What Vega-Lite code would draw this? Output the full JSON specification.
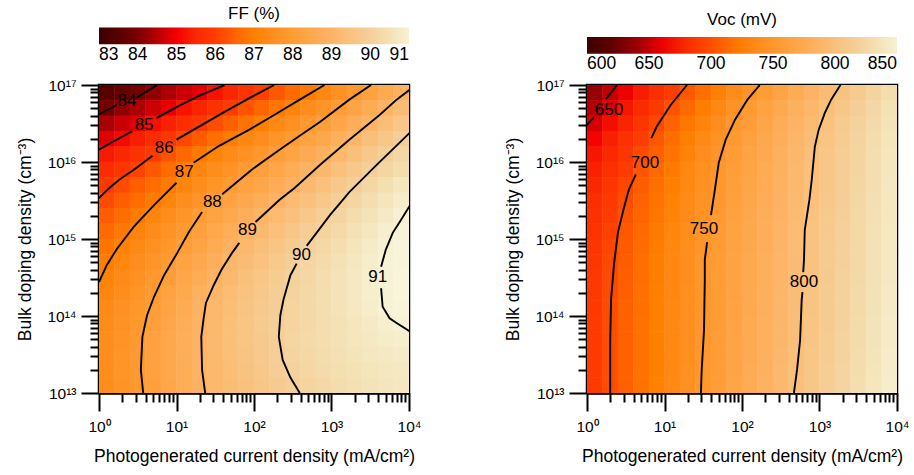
{
"$schema":"https://vega.github.io/schema/vega-lite/v6.json",
"background":"white",
"padding":{"left":15,"top":4,"right":5,"bottom":5},
"config":{"font":"Liberation Sans","view":{"stroke":"black","strokeWidth":2.5},
"axis":{"grid":false,"domainColor":"black","domainWidth":2.5,"tickColor":"black","tickWidth":2,"labelColor":"black","labelFontSize":15.5,"titleColor":"black","titleFontSize":17.5,"titleFontWeight":"normal","labelOverlap":false,"labelFlush":false}},
"datasets":{
"ff":[
{"J":1.259,"N":7.943e16,"FF":83.48},{"J":1.995,"N":7.943e16,"FF":83.71},{"J":3.162,"N":7.943e16,"FF":83.95},{"J":5.012,"N":7.943e16,"FF":84.19},{"J":7.943,"N":7.943e16,"FF":84.42},{"J":12.59,"N":7.943e16,"FF":84.66},{"J":19.95,"N":7.943e16,"FF":84.89},{"J":31.62,"N":7.943e16,"FF":85.16},{"J":50.12,"N":7.943e16,"FF":85.45},{"J":79.43,"N":7.943e16,"FF":85.75},{"J":125.9,"N":7.943e16,"FF":86.04},{"J":199.5,"N":7.943e16,"FF":86.34},{"J":316.2,"N":7.943e16,"FF":86.63},{"J":501.2,"N":7.943e16,"FF":86.93},{"J":794.3,"N":7.943e16,"FF":87.25},{"J":1259,"N":7.943e16,"FF":87.57},{"J":1995,"N":7.943e16,"FF":87.89},{"J":3162,"N":7.943e16,"FF":88.22},{"J":5012,"N":7.943e16,"FF":88.56},{"J":7943,"N":7.943e16,"FF":88.9},
{"J":1.259,"N":5.012e16,"FF":83.94},{"J":1.995,"N":5.012e16,"FF":84.18},{"J":3.162,"N":5.012e16,"FF":84.42},{"J":5.012,"N":5.012e16,"FF":84.66},{"J":7.943,"N":5.012e16,"FF":84.9},{"J":12.59,"N":5.012e16,"FF":85.16},{"J":19.95,"N":5.012e16,"FF":85.43},{"J":31.62,"N":5.012e16,"FF":85.71},{"J":50.12,"N":5.012e16,"FF":85.99},{"J":79.43,"N":5.012e16,"FF":86.27},{"J":125.9,"N":5.012e16,"FF":86.55},{"J":199.5,"N":5.012e16,"FF":86.84},{"J":316.2,"N":5.012e16,"FF":87.13},{"J":501.2,"N":5.012e16,"FF":87.42},{"J":794.3,"N":5.012e16,"FF":87.71},{"J":1259,"N":5.012e16,"FF":88.01},{"J":1995,"N":5.012e16,"FF":88.33},{"J":3162,"N":5.012e16,"FF":88.64},{"J":5012,"N":5.012e16,"FF":88.96},{"J":7943,"N":5.012e16,"FF":89.28},
{"J":1.259,"N":3.162e16,"FF":84.4},{"J":1.995,"N":3.162e16,"FF":84.63},{"J":3.162,"N":3.162e16,"FF":84.86},{"J":5.012,"N":3.162e16,"FF":85.11},{"J":7.943,"N":3.162e16,"FF":85.37},{"J":12.59,"N":3.162e16,"FF":85.64},{"J":19.95,"N":3.162e16,"FF":85.91},{"J":31.62,"N":3.162e16,"FF":86.18},{"J":50.12,"N":3.162e16,"FF":86.46},{"J":79.43,"N":3.162e16,"FF":86.75},{"J":125.9,"N":3.162e16,"FF":87.02},{"J":199.5,"N":3.162e16,"FF":87.3},{"J":316.2,"N":3.162e16,"FF":87.57},{"J":501.2,"N":3.162e16,"FF":87.84},{"J":794.3,"N":3.162e16,"FF":88.12},{"J":1259,"N":3.162e16,"FF":88.42},{"J":1995,"N":3.162e16,"FF":88.71},{"J":3162,"N":3.162e16,"FF":89.01},{"J":5012,"N":3.162e16,"FF":89.32},{"J":7943,"N":3.162e16,"FF":89.63},
{"J":1.259,"N":1.995e16,"FF":84.83},{"J":1.995,"N":1.995e16,"FF":85.07},{"J":3.162,"N":1.995e16,"FF":85.33},{"J":5.012,"N":1.995e16,"FF":85.59},{"J":7.943,"N":1.995e16,"FF":85.85},{"J":12.59,"N":1.995e16,"FF":86.12},{"J":19.95,"N":1.995e16,"FF":86.4},{"J":31.62,"N":1.995e16,"FF":86.68},{"J":50.12,"N":1.995e16,"FF":86.96},{"J":79.43,"N":1.995e16,"FF":87.22},{"J":125.9,"N":1.995e16,"FF":87.46},{"J":199.5,"N":1.995e16,"FF":87.71},{"J":316.2,"N":1.995e16,"FF":87.96},{"J":501.2,"N":1.995e16,"FF":88.23},{"J":794.3,"N":1.995e16,"FF":88.51},{"J":1259,"N":1.995e16,"FF":88.79},{"J":1995,"N":1.995e16,"FF":89.07},{"J":3162,"N":1.995e16,"FF":89.36},{"J":5012,"N":1.995e16,"FF":89.65},{"J":7943,"N":1.995e16,"FF":89.95},
{"J":1.259,"N":1.259e16,"FF":85.24},{"J":1.995,"N":1.259e16,"FF":85.48},{"J":3.162,"N":1.259e16,"FF":85.73},{"J":5.012,"N":1.259e16,"FF":85.98},{"J":7.943,"N":1.259e16,"FF":86.27},{"J":12.59,"N":1.259e16,"FF":86.58},{"J":19.95,"N":1.259e16,"FF":86.88},{"J":31.62,"N":1.259e16,"FF":87.14},{"J":50.12,"N":1.259e16,"FF":87.37},{"J":79.43,"N":1.259e16,"FF":87.6},{"J":125.9,"N":1.259e16,"FF":87.82},{"J":199.5,"N":1.259e16,"FF":88.06},{"J":316.2,"N":1.259e16,"FF":88.32},{"J":501.2,"N":1.259e16,"FF":88.59},{"J":794.3,"N":1.259e16,"FF":88.85},{"J":1259,"N":1.259e16,"FF":89.12},{"J":1995,"N":1.259e16,"FF":89.4},{"J":3162,"N":1.259e16,"FF":89.68},{"J":5012,"N":1.259e16,"FF":89.96},{"J":7943,"N":1.259e16,"FF":90.19},
{"J":1.259,"N":7.943e15,"FF":85.6},{"J":1.995,"N":7.943e15,"FF":85.83},{"J":3.162,"N":7.943e15,"FF":86.06},{"J":5.012,"N":7.943e15,"FF":86.36},{"J":7.943,"N":7.943e15,"FF":86.66},{"J":12.59,"N":7.943e15,"FF":86.96},{"J":19.95,"N":7.943e15,"FF":87.2},{"J":31.62,"N":7.943e15,"FF":87.44},{"J":50.12,"N":7.943e15,"FF":87.68},{"J":79.43,"N":7.943e15,"FF":87.91},{"J":125.9,"N":7.943e15,"FF":88.16},{"J":199.5,"N":7.943e15,"FF":88.4},{"J":316.2,"N":7.943e15,"FF":88.65},{"J":501.2,"N":7.943e15,"FF":88.9},{"J":794.3,"N":7.943e15,"FF":89.16},{"J":1259,"N":7.943e15,"FF":89.43},{"J":1995,"N":7.943e15,"FF":89.7},{"J":3162,"N":7.943e15,"FF":89.97},{"J":5012,"N":7.943e15,"FF":90.17},{"J":7943,"N":7.943e15,"FF":90.36},
{"J":1.259,"N":5.012e15,"FF":85.91},{"J":1.995,"N":5.012e15,"FF":86.16},{"J":3.162,"N":5.012e15,"FF":86.41},{"J":5.012,"N":5.012e15,"FF":86.66},{"J":7.943,"N":5.012e15,"FF":86.91},{"J":12.59,"N":5.012e15,"FF":87.17},{"J":19.95,"N":5.012e15,"FF":87.44},{"J":31.62,"N":5.012e15,"FF":87.7},{"J":50.12,"N":5.012e15,"FF":87.96},{"J":79.43,"N":5.012e15,"FF":88.21},{"J":125.9,"N":5.012e15,"FF":88.44},{"J":199.5,"N":5.012e15,"FF":88.68},{"J":316.2,"N":5.012e15,"FF":88.92},{"J":501.2,"N":5.012e15,"FF":89.18},{"J":794.3,"N":5.012e15,"FF":89.44},{"J":1259,"N":5.012e15,"FF":89.7},{"J":1995,"N":5.012e15,"FF":89.97},{"J":3162,"N":5.012e15,"FF":90.2},{"J":5012,"N":5.012e15,"FF":90.43},{"J":7943,"N":5.012e15,"FF":90.65},
{"J":1.259,"N":3.162e15,"FF":86.16},{"J":1.995,"N":3.162e15,"FF":86.41},{"J":3.162,"N":3.162e15,"FF":86.66},{"J":5.012,"N":3.162e15,"FF":86.91},{"J":7.943,"N":3.162e15,"FF":87.18},{"J":12.59,"N":3.162e15,"FF":87.46},{"J":19.95,"N":3.162e15,"FF":87.74},{"J":31.62,"N":3.162e15,"FF":88.02},{"J":50.12,"N":3.162e15,"FF":88.26},{"J":79.43,"N":3.162e15,"FF":88.49},{"J":125.9,"N":3.162e15,"FF":88.73},{"J":199.5,"N":3.162e15,"FF":88.97},{"J":316.2,"N":3.162e15,"FF":89.22},{"J":501.2,"N":3.162e15,"FF":89.46},{"J":794.3,"N":3.162e15,"FF":89.71},{"J":1259,"N":3.162e15,"FF":89.95},{"J":1995,"N":3.162e15,"FF":90.17},{"J":3162,"N":3.162e15,"FF":90.39},{"J":5012,"N":3.162e15,"FF":90.61},{"J":7943,"N":3.162e15,"FF":90.83},
{"J":1.259,"N":1.995e15,"FF":86.41},{"J":1.995,"N":1.995e15,"FF":86.65},{"J":3.162,"N":1.995e15,"FF":86.9},{"J":5.012,"N":1.995e15,"FF":87.16},{"J":7.943,"N":1.995e15,"FF":87.44},{"J":12.59,"N":1.995e15,"FF":87.72},{"J":19.95,"N":1.995e15,"FF":88.0},{"J":31.62,"N":1.995e15,"FF":88.25},{"J":50.12,"N":1.995e15,"FF":88.5},{"J":79.43,"N":1.995e15,"FF":88.75},{"J":125.9,"N":1.995e15,"FF":89.0},{"J":199.5,"N":1.995e15,"FF":89.23},{"J":316.2,"N":1.995e15,"FF":89.46},{"J":501.2,"N":1.995e15,"FF":89.69},{"J":794.3,"N":1.995e15,"FF":89.92},{"J":1259,"N":1.995e15,"FF":90.14},{"J":1995,"N":1.995e15,"FF":90.34},{"J":3162,"N":1.995e15,"FF":90.55},{"J":5012,"N":1.995e15,"FF":90.76},{"J":7943,"N":1.995e15,"FF":90.97},
{"J":1.259,"N":1.259e15,"FF":86.61},{"J":1.995,"N":1.259e15,"FF":86.86},{"J":3.162,"N":1.259e15,"FF":87.12},{"J":5.012,"N":1.259e15,"FF":87.38},{"J":7.943,"N":1.259e15,"FF":87.64},{"J":12.59,"N":1.259e15,"FF":87.91},{"J":19.95,"N":1.259e15,"FF":88.17},{"J":31.62,"N":1.259e15,"FF":88.45},{"J":50.12,"N":1.259e15,"FF":88.72},{"J":79.43,"N":1.259e15,"FF":88.99},{"J":125.9,"N":1.259e15,"FF":89.21},{"J":199.5,"N":1.259e15,"FF":89.44},{"J":316.2,"N":1.259e15,"FF":89.66},{"J":501.2,"N":1.259e15,"FF":89.88},{"J":794.3,"N":1.259e15,"FF":90.09},{"J":1259,"N":1.259e15,"FF":90.29},{"J":1995,"N":1.259e15,"FF":90.49},{"J":3162,"N":1.259e15,"FF":90.69},{"J":5012,"N":1.259e15,"FF":90.89},{"J":7943,"N":1.259e15,"FF":91.05},
{"J":1.259,"N":7.943e14,"FF":86.8},{"J":1.995,"N":7.943e14,"FF":87.06},{"J":3.162,"N":7.943e14,"FF":87.3},{"J":5.012,"N":7.943e14,"FF":87.56},{"J":7.943,"N":7.943e14,"FF":87.8},{"J":12.59,"N":7.943e14,"FF":88.06},{"J":19.95,"N":7.943e14,"FF":88.34},{"J":31.62,"N":7.943e14,"FF":88.62},{"J":50.12,"N":7.943e14,"FF":88.89},{"J":79.43,"N":7.943e14,"FF":89.14},{"J":125.9,"N":7.943e14,"FF":89.36},{"J":199.5,"N":7.943e14,"FF":89.59},{"J":316.2,"N":7.943e14,"FF":89.81},{"J":501.2,"N":7.943e14,"FF":90.03},{"J":794.3,"N":7.943e14,"FF":90.22},{"J":1259,"N":7.943e14,"FF":90.41},{"J":1995,"N":7.943e14,"FF":90.6},{"J":3162,"N":7.943e14,"FF":90.79},{"J":5012,"N":7.943e14,"FF":90.98},{"J":7943,"N":7.943e14,"FF":91.1},
{"J":1.259,"N":5.012e14,"FF":86.97},{"J":1.995,"N":5.012e14,"FF":87.21},{"J":3.162,"N":5.012e14,"FF":87.46},{"J":5.012,"N":5.012e14,"FF":87.71},{"J":7.943,"N":5.012e14,"FF":87.95},{"J":12.59,"N":5.012e14,"FF":88.23},{"J":19.95,"N":5.012e14,"FF":88.51},{"J":31.62,"N":5.012e14,"FF":88.8},{"J":50.12,"N":5.012e14,"FF":89.06},{"J":79.43,"N":5.012e14,"FF":89.28},{"J":125.9,"N":5.012e14,"FF":89.5},{"J":199.5,"N":5.012e14,"FF":89.72},{"J":316.2,"N":5.012e14,"FF":89.94},{"J":501.2,"N":5.012e14,"FF":90.13},{"J":794.3,"N":5.012e14,"FF":90.31},{"J":1259,"N":5.012e14,"FF":90.49},{"J":1995,"N":5.012e14,"FF":90.67},{"J":3162,"N":5.012e14,"FF":90.86},{"J":5012,"N":5.012e14,"FF":91.03},{"J":7943,"N":5.012e14,"FF":91.12},
{"J":1.259,"N":3.162e14,"FF":87.09},{"J":1.995,"N":3.162e14,"FF":87.34},{"J":3.162,"N":3.162e14,"FF":87.59},{"J":5.012,"N":3.162e14,"FF":87.84},{"J":7.943,"N":3.162e14,"FF":88.1},{"J":12.59,"N":3.162e14,"FF":88.39},{"J":19.95,"N":3.162e14,"FF":88.67},{"J":31.62,"N":3.162e14,"FF":88.96},{"J":50.12,"N":3.162e14,"FF":89.18},{"J":79.43,"N":3.162e14,"FF":89.4},{"J":125.9,"N":3.162e14,"FF":89.61},{"J":199.5,"N":3.162e14,"FF":89.83},{"J":316.2,"N":3.162e14,"FF":90.03},{"J":501.2,"N":3.162e14,"FF":90.2},{"J":794.3,"N":3.162e14,"FF":90.38},{"J":1259,"N":3.162e14,"FF":90.55},{"J":1995,"N":3.162e14,"FF":90.72},{"J":3162,"N":3.162e14,"FF":90.89},{"J":5012,"N":3.162e14,"FF":91.04},{"J":7943,"N":3.162e14,"FF":91.13},
{"J":1.259,"N":1.995e14,"FF":87.19},{"J":1.995,"N":1.995e14,"FF":87.45},{"J":3.162,"N":1.995e14,"FF":87.7},{"J":5.012,"N":1.995e14,"FF":87.95},{"J":7.943,"N":1.995e14,"FF":88.23},{"J":12.59,"N":1.995e14,"FF":88.52},{"J":19.95,"N":1.995e14,"FF":88.81},{"J":31.62,"N":1.995e14,"FF":89.07},{"J":50.12,"N":1.995e14,"FF":89.27},{"J":79.43,"N":1.995e14,"FF":89.48},{"J":125.9,"N":1.995e14,"FF":89.68},{"J":199.5,"N":1.995e14,"FF":89.89},{"J":316.2,"N":1.995e14,"FF":90.07},{"J":501.2,"N":1.995e14,"FF":90.24},{"J":794.3,"N":1.995e14,"FF":90.4},{"J":1259,"N":1.995e14,"FF":90.56},{"J":1995,"N":1.995e14,"FF":90.72},{"J":3162,"N":1.995e14,"FF":90.89},{"J":5012,"N":1.995e14,"FF":91.04},{"J":7943,"N":1.995e14,"FF":91.13},
{"J":1.259,"N":1.259e14,"FF":87.3},{"J":1.995,"N":1.259e14,"FF":87.55},{"J":3.162,"N":1.259e14,"FF":87.81},{"J":5.012,"N":1.259e14,"FF":88.06},{"J":7.943,"N":1.259e14,"FF":88.34},{"J":12.59,"N":1.259e14,"FF":88.62},{"J":19.95,"N":1.259e14,"FF":88.9},{"J":31.62,"N":1.259e14,"FF":89.13},{"J":50.12,"N":1.259e14,"FF":89.33},{"J":79.43,"N":1.259e14,"FF":89.54},{"J":125.9,"N":1.259e14,"FF":89.74},{"J":199.5,"N":1.259e14,"FF":89.94},{"J":316.2,"N":1.259e14,"FF":90.11},{"J":501.2,"N":1.259e14,"FF":90.26},{"J":794.3,"N":1.259e14,"FF":90.41},{"J":1259,"N":1.259e14,"FF":90.56},{"J":1995,"N":1.259e14,"FF":90.72},{"J":3162,"N":1.259e14,"FF":90.87},{"J":5012,"N":1.259e14,"FF":91.02},{"J":7943,"N":1.259e14,"FF":91.1},
{"J":1.259,"N":7.943e13,"FF":87.37},{"J":1.995,"N":7.943e13,"FF":87.63},{"J":3.162,"N":7.943e13,"FF":87.88},{"J":5.012,"N":7.943e13,"FF":88.14},{"J":7.943,"N":7.943e13,"FF":88.41},{"J":12.59,"N":7.943e13,"FF":88.68},{"J":19.95,"N":7.943e13,"FF":88.95},{"J":31.62,"N":7.943e13,"FF":89.16},{"J":50.12,"N":7.943e13,"FF":89.36},{"J":79.43,"N":7.943e13,"FF":89.57},{"J":125.9,"N":7.943e13,"FF":89.77},{"J":199.5,"N":7.943e13,"FF":89.97},{"J":316.2,"N":7.943e13,"FF":90.11},{"J":501.2,"N":7.943e13,"FF":90.24},{"J":794.3,"N":7.943e13,"FF":90.37},{"J":1259,"N":7.943e13,"FF":90.5},{"J":1995,"N":7.943e13,"FF":90.64},{"J":3162,"N":7.943e13,"FF":90.77},{"J":5012,"N":7.943e13,"FF":90.9},{"J":7943,"N":7.943e13,"FF":91.02},
{"J":1.259,"N":5.012e13,"FF":87.43},{"J":1.995,"N":5.012e13,"FF":87.68},{"J":3.162,"N":5.012e13,"FF":87.93},{"J":5.012,"N":5.012e13,"FF":88.19},{"J":7.943,"N":5.012e13,"FF":88.45},{"J":12.59,"N":5.012e13,"FF":88.71},{"J":19.95,"N":5.012e13,"FF":88.97},{"J":31.62,"N":5.012e13,"FF":89.18},{"J":50.12,"N":5.012e13,"FF":89.38},{"J":79.43,"N":5.012e13,"FF":89.58},{"J":125.9,"N":5.012e13,"FF":89.78},{"J":199.5,"N":5.012e13,"FF":89.98},{"J":316.2,"N":5.012e13,"FF":90.13},{"J":501.2,"N":5.012e13,"FF":90.27},{"J":794.3,"N":5.012e13,"FF":90.4},{"J":1259,"N":5.012e13,"FF":90.52},{"J":1995,"N":5.012e13,"FF":90.63},{"J":3162,"N":5.012e13,"FF":90.73},{"J":5012,"N":5.012e13,"FF":90.82},{"J":7943,"N":5.012e13,"FF":90.9},
{"J":1.259,"N":3.162e13,"FF":87.44},{"J":1.995,"N":3.162e13,"FF":87.69},{"J":3.162,"N":3.162e13,"FF":87.94},{"J":5.012,"N":3.162e13,"FF":88.19},{"J":7.943,"N":3.162e13,"FF":88.45},{"J":12.59,"N":3.162e13,"FF":88.71},{"J":19.95,"N":3.162e13,"FF":88.97},{"J":31.62,"N":3.162e13,"FF":89.17},{"J":50.12,"N":3.162e13,"FF":89.36},{"J":79.43,"N":3.162e13,"FF":89.56},{"J":125.9,"N":3.162e13,"FF":89.75},{"J":199.5,"N":3.162e13,"FF":89.95},{"J":316.2,"N":3.162e13,"FF":90.1},{"J":501.2,"N":3.162e13,"FF":90.23},{"J":794.3,"N":3.162e13,"FF":90.36},{"J":1259,"N":3.162e13,"FF":90.47},{"J":1995,"N":3.162e13,"FF":90.57},{"J":3162,"N":3.162e13,"FF":90.66},{"J":5012,"N":3.162e13,"FF":90.74},{"J":7943,"N":3.162e13,"FF":90.81},
{"J":1.259,"N":1.995e13,"FF":87.45},{"J":1.995,"N":1.995e13,"FF":87.7},{"J":3.162,"N":1.995e13,"FF":87.94},{"J":5.012,"N":1.995e13,"FF":88.2},{"J":7.943,"N":1.995e13,"FF":88.45},{"J":12.59,"N":1.995e13,"FF":88.7},{"J":19.95,"N":1.995e13,"FF":88.96},{"J":31.62,"N":1.995e13,"FF":89.15},{"J":50.12,"N":1.995e13,"FF":89.34},{"J":79.43,"N":1.995e13,"FF":89.52},{"J":125.9,"N":1.995e13,"FF":89.7},{"J":199.5,"N":1.995e13,"FF":89.89},{"J":316.2,"N":1.995e13,"FF":90.06},{"J":501.2,"N":1.995e13,"FF":90.19},{"J":794.3,"N":1.995e13,"FF":90.31},{"J":1259,"N":1.995e13,"FF":90.42},{"J":1995,"N":1.995e13,"FF":90.52},{"J":3162,"N":1.995e13,"FF":90.6},{"J":5012,"N":1.995e13,"FF":90.68},{"J":7943,"N":1.995e13,"FF":90.75},
{"J":1.259,"N":1.259e13,"FF":87.43},{"J":1.995,"N":1.259e13,"FF":87.68},{"J":3.162,"N":1.259e13,"FF":87.92},{"J":5.012,"N":1.259e13,"FF":88.18},{"J":7.943,"N":1.259e13,"FF":88.42},{"J":12.59,"N":1.259e13,"FF":88.68},{"J":19.95,"N":1.259e13,"FF":88.93},{"J":31.62,"N":1.259e13,"FF":89.12},{"J":50.12,"N":1.259e13,"FF":89.29},{"J":79.43,"N":1.259e13,"FF":89.46},{"J":125.9,"N":1.259e13,"FF":89.63},{"J":199.5,"N":1.259e13,"FF":89.8},{"J":316.2,"N":1.259e13,"FF":89.97},{"J":501.2,"N":1.259e13,"FF":90.11},{"J":794.3,"N":1.259e13,"FF":90.24},{"J":1259,"N":1.259e13,"FF":90.35},{"J":1995,"N":1.259e13,"FF":90.45},{"J":3162,"N":1.259e13,"FF":90.54},{"J":5012,"N":1.259e13,"FF":90.62},{"J":7943,"N":1.259e13,"FF":90.69}
],
"voc":[
{"J":1.259,"N":7.943e16,"Voc":638.7},{"J":1.995,"N":7.943e16,"Voc":649.8},{"J":3.162,"N":7.943e16,"Voc":660.8},{"J":5.012,"N":7.943e16,"Voc":671.8},{"J":7.943,"N":7.943e16,"Voc":682.9},{"J":12.59,"N":7.943e16,"Voc":693.9},{"J":19.95,"N":7.943e16,"Voc":704.8},{"J":31.62,"N":7.943e16,"Voc":715.5},{"J":50.12,"N":7.943e16,"Voc":726.2},{"J":79.43,"N":7.943e16,"Voc":736.9},{"J":125.9,"N":7.943e16,"Voc":747.6},{"J":199.5,"N":7.943e16,"Voc":757.3},{"J":316.2,"N":7.943e16,"Voc":766.7},{"J":501.2,"N":7.943e16,"Voc":776.2},{"J":794.3,"N":7.943e16,"Voc":785.6},{"J":1259,"N":7.943e16,"Voc":795},{"J":1995,"N":7.943e16,"Voc":804.1},{"J":3162,"N":7.943e16,"Voc":812.7},{"J":5012,"N":7.943e16,"Voc":821.3},{"J":7943,"N":7.943e16,"Voc":829.9},
{"J":1.259,"N":5.012e16,"Voc":646.4},{"J":1.995,"N":5.012e16,"Voc":657.6},{"J":3.162,"N":5.012e16,"Voc":668.7},{"J":5.012,"N":5.012e16,"Voc":679.9},{"J":7.943,"N":5.012e16,"Voc":691.1},{"J":12.59,"N":5.012e16,"Voc":702.2},{"J":19.95,"N":5.012e16,"Voc":712.8},{"J":31.62,"N":5.012e16,"Voc":723.4},{"J":50.12,"N":5.012e16,"Voc":734},{"J":79.43,"N":5.012e16,"Voc":744.6},{"J":125.9,"N":5.012e16,"Voc":754.5},{"J":199.5,"N":5.012e16,"Voc":763.6},{"J":316.2,"N":5.012e16,"Voc":772.7},{"J":501.2,"N":5.012e16,"Voc":781.8},{"J":794.3,"N":5.012e16,"Voc":790.9},{"J":1259,"N":5.012e16,"Voc":800},{"J":1995,"N":5.012e16,"Voc":808.4},{"J":3162,"N":5.012e16,"Voc":816.8},{"J":5012,"N":5.012e16,"Voc":825.2},{"J":7943,"N":5.012e16,"Voc":833.6},
{"J":1.259,"N":3.162e16,"Voc":654.5},{"J":1.995,"N":3.162e16,"Voc":665.5},{"J":3.162,"N":3.162e16,"Voc":676.4},{"J":5.012,"N":3.162e16,"Voc":687.3},{"J":7.943,"N":3.162e16,"Voc":698.3},{"J":12.59,"N":3.162e16,"Voc":708.8},{"J":19.95,"N":3.162e16,"Voc":719.2},{"J":31.62,"N":3.162e16,"Voc":729.7},{"J":50.12,"N":3.162e16,"Voc":740.1},{"J":79.43,"N":3.162e16,"Voc":750.5},{"J":125.9,"N":3.162e16,"Voc":759.3},{"J":199.5,"N":3.162e16,"Voc":768.1},{"J":316.2,"N":3.162e16,"Voc":776.9},{"J":501.2,"N":3.162e16,"Voc":785.8},{"J":794.3,"N":3.162e16,"Voc":794.6},{"J":1259,"N":3.162e16,"Voc":803.2},{"J":1995,"N":3.162e16,"Voc":811.4},{"J":3162,"N":3.162e16,"Voc":819.7},{"J":5012,"N":3.162e16,"Voc":827.9},{"J":7943,"N":3.162e16,"Voc":836.1},
{"J":1.259,"N":1.995e16,"Voc":663.3},{"J":1.995,"N":1.995e16,"Voc":673.4},{"J":3.162,"N":1.995e16,"Voc":683.6},{"J":5.012,"N":1.995e16,"Voc":693.7},{"J":7.943,"N":1.995e16,"Voc":703.9},{"J":12.59,"N":1.995e16,"Voc":714.2},{"J":19.95,"N":1.995e16,"Voc":724.4},{"J":31.62,"N":1.995e16,"Voc":734.6},{"J":50.12,"N":1.995e16,"Voc":744.9},{"J":79.43,"N":1.995e16,"Voc":754.3},{"J":125.9,"N":1.995e16,"Voc":762.9},{"J":199.5,"N":1.995e16,"Voc":771.4},{"J":316.2,"N":1.995e16,"Voc":780},{"J":501.2,"N":1.995e16,"Voc":788.6},{"J":794.3,"N":1.995e16,"Voc":797.1},{"J":1259,"N":1.995e16,"Voc":805.4},{"J":1995,"N":1.995e16,"Voc":813.5},{"J":3162,"N":1.995e16,"Voc":821.5},{"J":5012,"N":1.995e16,"Voc":829.6},{"J":7943,"N":1.995e16,"Voc":837.7},
{"J":1.259,"N":1.259e16,"Voc":668.9},{"J":1.995,"N":1.259e16,"Voc":678.9},{"J":3.162,"N":1.259e16,"Voc":688.8},{"J":5.012,"N":1.259e16,"Voc":698.7},{"J":7.943,"N":1.259e16,"Voc":708.6},{"J":12.59,"N":1.259e16,"Voc":718.5},{"J":19.95,"N":1.259e16,"Voc":728.4},{"J":31.62,"N":1.259e16,"Voc":738.3},{"J":50.12,"N":1.259e16,"Voc":748.2},{"J":79.43,"N":1.259e16,"Voc":756.8},{"J":125.9,"N":1.259e16,"Voc":765.2},{"J":199.5,"N":1.259e16,"Voc":773.5},{"J":316.2,"N":1.259e16,"Voc":781.9},{"J":501.2,"N":1.259e16,"Voc":790.2},{"J":794.3,"N":1.259e16,"Voc":798.6},{"J":1259,"N":1.259e16,"Voc":806.7},{"J":1995,"N":1.259e16,"Voc":814.7},{"J":3162,"N":1.259e16,"Voc":822.6},{"J":5012,"N":1.259e16,"Voc":830.6},{"J":7943,"N":1.259e16,"Voc":838.6},
{"J":1.259,"N":7.943e15,"Voc":673.7},{"J":1.995,"N":7.943e15,"Voc":683.3},{"J":3.162,"N":7.943e15,"Voc":693},{"J":5.012,"N":7.943e15,"Voc":702.7},{"J":7.943,"N":7.943e15,"Voc":712.2},{"J":12.59,"N":7.943e15,"Voc":721.8},{"J":19.95,"N":7.943e15,"Voc":731.3},{"J":31.62,"N":7.943e15,"Voc":740.9},{"J":50.12,"N":7.943e15,"Voc":750.4},{"J":79.43,"N":7.943e15,"Voc":758.6},{"J":125.9,"N":7.943e15,"Voc":766.7},{"J":199.5,"N":7.943e15,"Voc":774.9},{"J":316.2,"N":7.943e15,"Voc":783.1},{"J":501.2,"N":7.943e15,"Voc":791.2},{"J":794.3,"N":7.943e15,"Voc":799.4},{"J":1259,"N":7.943e15,"Voc":807.3},{"J":1995,"N":7.943e15,"Voc":815.2},{"J":3162,"N":7.943e15,"Voc":823.1},{"J":5012,"N":7.943e15,"Voc":831},{"J":7943,"N":7.943e15,"Voc":838.9},
{"J":1.259,"N":5.012e15,"Voc":678.2},{"J":1.995,"N":5.012e15,"Voc":687.6},{"J":3.162,"N":5.012e15,"Voc":696.9},{"J":5.012,"N":5.012e15,"Voc":706.1},{"J":7.943,"N":5.012e15,"Voc":715.3},{"J":12.59,"N":5.012e15,"Voc":724.4},{"J":19.95,"N":5.012e15,"Voc":733.5},{"J":31.62,"N":5.012e15,"Voc":742.7},{"J":50.12,"N":5.012e15,"Voc":751.6},{"J":79.43,"N":5.012e15,"Voc":759.7},{"J":125.9,"N":5.012e15,"Voc":767.8},{"J":199.5,"N":5.012e15,"Voc":775.9},{"J":316.2,"N":5.012e15,"Voc":784.1},{"J":501.2,"N":5.012e15,"Voc":792.2},{"J":794.3,"N":5.012e15,"Voc":800.3},{"J":1259,"N":5.012e15,"Voc":808.1},{"J":1995,"N":5.012e15,"Voc":815.9},{"J":3162,"N":5.012e15,"Voc":823.8},{"J":5012,"N":5.012e15,"Voc":831.6},{"J":7943,"N":5.012e15,"Voc":839.4},
{"J":1.259,"N":3.162e15,"Voc":681.9},{"J":1.995,"N":3.162e15,"Voc":690.9},{"J":3.162,"N":3.162e15,"Voc":699.9},{"J":5.012,"N":3.162e15,"Voc":708.8},{"J":7.943,"N":3.162e15,"Voc":717.7},{"J":12.59,"N":3.162e15,"Voc":726.6},{"J":19.95,"N":3.162e15,"Voc":735.4},{"J":31.62,"N":3.162e15,"Voc":744.3},{"J":50.12,"N":3.162e15,"Voc":752.9},{"J":79.43,"N":3.162e15,"Voc":761},{"J":125.9,"N":3.162e15,"Voc":769.1},{"J":199.5,"N":3.162e15,"Voc":777.2},{"J":316.2,"N":3.162e15,"Voc":785.3},{"J":501.2,"N":3.162e15,"Voc":793.4},{"J":794.3,"N":3.162e15,"Voc":801.4},{"J":1259,"N":3.162e15,"Voc":809.2},{"J":1995,"N":3.162e15,"Voc":816.9},{"J":3162,"N":3.162e15,"Voc":824.7},{"J":5012,"N":3.162e15,"Voc":832.4},{"J":7943,"N":3.162e15,"Voc":840.2},
{"J":1.259,"N":1.995e15,"Voc":684.7},{"J":1.995,"N":1.995e15,"Voc":693.5},{"J":3.162,"N":1.995e15,"Voc":702.3},{"J":5.012,"N":1.995e15,"Voc":711.1},{"J":7.943,"N":1.995e15,"Voc":719.8},{"J":12.59,"N":1.995e15,"Voc":728.6},{"J":19.95,"N":1.995e15,"Voc":737.4},{"J":31.62,"N":1.995e15,"Voc":746.1},{"J":50.12,"N":1.995e15,"Voc":754.5},{"J":79.43,"N":1.995e15,"Voc":762.5},{"J":125.9,"N":1.995e15,"Voc":770.5},{"J":199.5,"N":1.995e15,"Voc":778.5},{"J":316.2,"N":1.995e15,"Voc":786.5},{"J":501.2,"N":1.995e15,"Voc":794.5},{"J":794.3,"N":1.995e15,"Voc":802.4},{"J":1259,"N":1.995e15,"Voc":810.1},{"J":1995,"N":1.995e15,"Voc":817.8},{"J":3162,"N":1.995e15,"Voc":825.4},{"J":5012,"N":1.995e15,"Voc":833.1},{"J":7943,"N":1.995e15,"Voc":840.8},
{"J":1.259,"N":1.259e15,"Voc":686.6},{"J":1.995,"N":1.259e15,"Voc":695.4},{"J":3.162,"N":1.259e15,"Voc":704.2},{"J":5.012,"N":1.259e15,"Voc":713},{"J":7.943,"N":1.259e15,"Voc":721.7},{"J":12.59,"N":1.259e15,"Voc":730.4},{"J":19.95,"N":1.259e15,"Voc":739.2},{"J":31.62,"N":1.259e15,"Voc":747.9},{"J":50.12,"N":1.259e15,"Voc":756},{"J":79.43,"N":1.259e15,"Voc":763.9},{"J":125.9,"N":1.259e15,"Voc":771.8},{"J":199.5,"N":1.259e15,"Voc":779.7},{"J":316.2,"N":1.259e15,"Voc":787.6},{"J":501.2,"N":1.259e15,"Voc":795.5},{"J":794.3,"N":1.259e15,"Voc":803.3},{"J":1259,"N":1.259e15,"Voc":810.9},{"J":1995,"N":1.259e15,"Voc":818.5},{"J":3162,"N":1.259e15,"Voc":826.1},{"J":5012,"N":1.259e15,"Voc":833.7},{"J":7943,"N":1.259e15,"Voc":841.3},
{"J":1.259,"N":7.943e14,"Voc":688},{"J":1.995,"N":7.943e14,"Voc":696.7},{"J":3.162,"N":7.943e14,"Voc":705.4},{"J":5.012,"N":7.943e14,"Voc":714},{"J":7.943,"N":7.943e14,"Voc":722.6},{"J":12.59,"N":7.943e14,"Voc":731.2},{"J":19.95,"N":7.943e14,"Voc":739.8},{"J":31.62,"N":7.943e14,"Voc":748.5},{"J":50.12,"N":7.943e14,"Voc":756.5},{"J":79.43,"N":7.943e14,"Voc":764.4},{"J":125.9,"N":7.943e14,"Voc":772.2},{"J":199.5,"N":7.943e14,"Voc":780.1},{"J":316.2,"N":7.943e14,"Voc":788},{"J":501.2,"N":7.943e14,"Voc":795.8},{"J":794.3,"N":7.943e14,"Voc":803.6},{"J":1259,"N":7.943e14,"Voc":811.2},{"J":1995,"N":7.943e14,"Voc":818.8},{"J":3162,"N":7.943e14,"Voc":826.4},{"J":5012,"N":7.943e14,"Voc":834},{"J":7943,"N":7.943e14,"Voc":841.6},
{"J":1.259,"N":5.012e14,"Voc":689.4},{"J":1.995,"N":5.012e14,"Voc":697.9},{"J":3.162,"N":5.012e14,"Voc":706.4},{"J":5.012,"N":5.012e14,"Voc":714.9},{"J":7.943,"N":5.012e14,"Voc":723.5},{"J":12.59,"N":5.012e14,"Voc":732},{"J":19.95,"N":5.012e14,"Voc":740.5},{"J":31.62,"N":5.012e14,"Voc":749},{"J":50.12,"N":5.012e14,"Voc":757},{"J":79.43,"N":5.012e14,"Voc":764.8},{"J":125.9,"N":5.012e14,"Voc":772.6},{"J":199.5,"N":5.012e14,"Voc":780.5},{"J":316.2,"N":5.012e14,"Voc":788.3},{"J":501.2,"N":5.012e14,"Voc":796.1},{"J":794.3,"N":5.012e14,"Voc":803.8},{"J":1259,"N":5.012e14,"Voc":811.4},{"J":1995,"N":5.012e14,"Voc":819},{"J":3162,"N":5.012e14,"Voc":826.6},{"J":5012,"N":5.012e14,"Voc":834.2},{"J":7943,"N":5.012e14,"Voc":841.8},
{"J":1.259,"N":3.162e14,"Voc":690.2},{"J":1.995,"N":3.162e14,"Voc":698.6},{"J":3.162,"N":3.162e14,"Voc":707},{"J":5.012,"N":3.162e14,"Voc":715.4},{"J":7.943,"N":3.162e14,"Voc":723.8},{"J":12.59,"N":3.162e14,"Voc":732.2},{"J":19.95,"N":3.162e14,"Voc":740.6},{"J":31.62,"N":3.162e14,"Voc":749.1},{"J":50.12,"N":3.162e14,"Voc":757},{"J":79.43,"N":3.162e14,"Voc":764.9},{"J":125.9,"N":3.162e14,"Voc":772.8},{"J":199.5,"N":3.162e14,"Voc":780.6},{"J":316.2,"N":3.162e14,"Voc":788.5},{"J":501.2,"N":3.162e14,"Voc":796.4},{"J":794.3,"N":3.162e14,"Voc":804.1},{"J":1259,"N":3.162e14,"Voc":811.7},{"J":1995,"N":3.162e14,"Voc":819.3},{"J":3162,"N":3.162e14,"Voc":826.9},{"J":5012,"N":3.162e14,"Voc":834.5},{"J":7943,"N":3.162e14,"Voc":842.1},
{"J":1.259,"N":1.995e14,"Voc":690.9},{"J":1.995,"N":1.995e14,"Voc":699.3},{"J":3.162,"N":1.995e14,"Voc":707.6},{"J":5.012,"N":1.995e14,"Voc":715.9},{"J":7.943,"N":1.995e14,"Voc":724.2},{"J":12.59,"N":1.995e14,"Voc":732.6},{"J":19.95,"N":1.995e14,"Voc":740.9},{"J":31.62,"N":1.995e14,"Voc":749.2},{"J":50.12,"N":1.995e14,"Voc":757.2},{"J":79.43,"N":1.995e14,"Voc":765.1},{"J":125.9,"N":1.995e14,"Voc":773.1},{"J":199.5,"N":1.995e14,"Voc":781},{"J":316.2,"N":1.995e14,"Voc":788.9},{"J":501.2,"N":1.995e14,"Voc":796.9},{"J":794.3,"N":1.995e14,"Voc":804.6},{"J":1259,"N":1.995e14,"Voc":812.2},{"J":1995,"N":1.995e14,"Voc":819.8},{"J":3162,"N":1.995e14,"Voc":827.4},{"J":5012,"N":1.995e14,"Voc":835},{"J":7943,"N":1.995e14,"Voc":842.6},
{"J":1.259,"N":1.259e14,"Voc":691.4},{"J":1.995,"N":1.259e14,"Voc":699.7},{"J":3.162,"N":1.259e14,"Voc":708},{"J":5.012,"N":1.259e14,"Voc":716.3},{"J":7.943,"N":1.259e14,"Voc":724.5},{"J":12.59,"N":1.259e14,"Voc":732.8},{"J":19.95,"N":1.259e14,"Voc":741.1},{"J":31.62,"N":1.259e14,"Voc":749.4},{"J":50.12,"N":1.259e14,"Voc":757.4},{"J":79.43,"N":1.259e14,"Voc":765.4},{"J":125.9,"N":1.259e14,"Voc":773.3},{"J":199.5,"N":1.259e14,"Voc":781.3},{"J":316.2,"N":1.259e14,"Voc":789.3},{"J":501.2,"N":1.259e14,"Voc":797.2},{"J":794.3,"N":1.259e14,"Voc":805},{"J":1259,"N":1.259e14,"Voc":812.6},{"J":1995,"N":1.259e14,"Voc":820.2},{"J":3162,"N":1.259e14,"Voc":827.8},{"J":5012,"N":1.259e14,"Voc":835.4},{"J":7943,"N":1.259e14,"Voc":843},
{"J":1.259,"N":7.943e13,"Voc":691.6},{"J":1.995,"N":7.943e13,"Voc":699.9},{"J":3.162,"N":7.943e13,"Voc":708.2},{"J":5.012,"N":7.943e13,"Voc":716.5},{"J":7.943,"N":7.943e13,"Voc":724.7},{"J":12.59,"N":7.943e13,"Voc":733},{"J":19.95,"N":7.943e13,"Voc":741.3},{"J":31.62,"N":7.943e13,"Voc":749.5},{"J":50.12,"N":7.943e13,"Voc":757.6},{"J":79.43,"N":7.943e13,"Voc":765.6},{"J":125.9,"N":7.943e13,"Voc":773.6},{"J":199.5,"N":7.943e13,"Voc":781.6},{"J":316.2,"N":7.943e13,"Voc":789.6},{"J":501.2,"N":7.943e13,"Voc":797.6},{"J":794.3,"N":7.943e13,"Voc":805.4},{"J":1259,"N":7.943e13,"Voc":813},{"J":1995,"N":7.943e13,"Voc":820.6},{"J":3162,"N":7.943e13,"Voc":828.2},{"J":5012,"N":7.943e13,"Voc":835.8},{"J":7943,"N":7.943e13,"Voc":843.4},
{"J":1.259,"N":5.012e13,"Voc":691.8},{"J":1.995,"N":5.012e13,"Voc":700.1},{"J":3.162,"N":5.012e13,"Voc":708.4},{"J":5.012,"N":5.012e13,"Voc":716.7},{"J":7.943,"N":5.012e13,"Voc":725},{"J":12.59,"N":5.012e13,"Voc":733.3},{"J":19.95,"N":5.012e13,"Voc":741.6},{"J":31.62,"N":5.012e13,"Voc":749.9},{"J":50.12,"N":5.012e13,"Voc":757.9},{"J":79.43,"N":5.012e13,"Voc":765.9},{"J":125.9,"N":5.012e13,"Voc":773.9},{"J":199.5,"N":5.012e13,"Voc":781.9},{"J":316.2,"N":5.012e13,"Voc":789.9},{"J":501.2,"N":5.012e13,"Voc":798},{"J":794.3,"N":5.012e13,"Voc":805.8},{"J":1259,"N":5.012e13,"Voc":813.4},{"J":1995,"N":5.012e13,"Voc":821},{"J":3162,"N":5.012e13,"Voc":828.6},{"J":5012,"N":5.012e13,"Voc":836.2},{"J":7943,"N":5.012e13,"Voc":843.8},
{"J":1.259,"N":3.162e13,"Voc":691.8},{"J":1.995,"N":3.162e13,"Voc":700.1},{"J":3.162,"N":3.162e13,"Voc":708.5},{"J":5.012,"N":3.162e13,"Voc":716.8},{"J":7.943,"N":3.162e13,"Voc":725.2},{"J":12.59,"N":3.162e13,"Voc":733.5},{"J":19.95,"N":3.162e13,"Voc":741.9},{"J":31.62,"N":3.162e13,"Voc":750.2},{"J":50.12,"N":3.162e13,"Voc":758.3},{"J":79.43,"N":3.162e13,"Voc":766.4},{"J":125.9,"N":3.162e13,"Voc":774.5},{"J":199.5,"N":3.162e13,"Voc":782.6},{"J":316.2,"N":3.162e13,"Voc":790.7},{"J":501.2,"N":3.162e13,"Voc":798.8},{"J":794.3,"N":3.162e13,"Voc":806.5},{"J":1259,"N":3.162e13,"Voc":814.1},{"J":1995,"N":3.162e13,"Voc":821.7},{"J":3162,"N":3.162e13,"Voc":829.3},{"J":5012,"N":3.162e13,"Voc":836.9},{"J":7943,"N":3.162e13,"Voc":844.5},
{"J":1.259,"N":1.995e13,"Voc":691.8},{"J":1.995,"N":1.995e13,"Voc":700.1},{"J":3.162,"N":1.995e13,"Voc":708.6},{"J":5.012,"N":1.995e13,"Voc":717},{"J":7.943,"N":1.995e13,"Voc":725.4},{"J":12.59,"N":1.995e13,"Voc":733.8},{"J":19.95,"N":1.995e13,"Voc":742.3},{"J":31.62,"N":1.995e13,"Voc":750.7},{"J":50.12,"N":1.995e13,"Voc":758.8},{"J":79.43,"N":1.995e13,"Voc":767},{"J":125.9,"N":1.995e13,"Voc":775.1},{"J":199.5,"N":1.995e13,"Voc":783.3},{"J":316.2,"N":1.995e13,"Voc":791.4},{"J":501.2,"N":1.995e13,"Voc":799.6},{"J":794.3,"N":1.995e13,"Voc":807.2},{"J":1259,"N":1.995e13,"Voc":814.8},{"J":1995,"N":1.995e13,"Voc":822.4},{"J":3162,"N":1.995e13,"Voc":830},{"J":5012,"N":1.995e13,"Voc":837.6},{"J":7943,"N":1.995e13,"Voc":845.2},
{"J":1.259,"N":1.259e13,"Voc":691.8},{"J":1.995,"N":1.259e13,"Voc":700.1},{"J":3.162,"N":1.259e13,"Voc":708.6},{"J":5.012,"N":1.259e13,"Voc":717.1},{"J":7.943,"N":1.259e13,"Voc":725.6},{"J":12.59,"N":1.259e13,"Voc":734.1},{"J":19.95,"N":1.259e13,"Voc":742.6},{"J":31.62,"N":1.259e13,"Voc":751},{"J":50.12,"N":1.259e13,"Voc":759.3},{"J":79.43,"N":1.259e13,"Voc":767.6},{"J":125.9,"N":1.259e13,"Voc":775.9},{"J":199.5,"N":1.259e13,"Voc":784.1},{"J":316.2,"N":1.259e13,"Voc":792.4},{"J":501.2,"N":1.259e13,"Voc":800.6},{"J":794.3,"N":1.259e13,"Voc":808.2},{"J":1259,"N":1.259e13,"Voc":815.8},{"J":1995,"N":1.259e13,"Voc":823.4},{"J":3162,"N":1.259e13,"Voc":831},{"J":5012,"N":1.259e13,"Voc":838.6},{"J":7943,"N":1.259e13,"Voc":846.2}
],
"ffc":[
{"s":"84a","k":0,"J":1,"N":4.169e16},{"s":"84a","k":1,"J":1.698,"N":5.495e16},
{"s":"84b","k":0,"J":3.09,"N":6.918e16},{"s":"84b","k":1,"J":5.623,"N":1e17},
{"s":"85a","k":0,"J":1,"N":1.445e16},{"s":"85a","k":1,"J":1.549,"N":1.862e16},{"s":"85a","k":2,"J":2.692,"N":2.512e16},
{"s":"85b","k":0,"J":5.495,"N":3.715e16},{"s":"85b","k":1,"J":10.72,"N":5.37e16},{"s":"85b","k":2,"J":19.5,"N":7.244e16},{"s":"85b","k":3,"J":41.69,"N":1e17},
{"s":"86a","k":0,"J":1,"N":3.388e15},{"s":"86a","k":1,"J":1.349,"N":4.571e15},{"s":"86a","k":2,"J":1.82,"N":5.888e15},{"s":"86a","k":3,"J":2.818,"N":7.943e15},{"s":"86a","k":4,"J":4.898,"N":1.202e16},
{"s":"86b","k":0,"J":10,"N":1.95e16},{"s":"86b","k":1,"J":19.5,"N":2.884e16},{"s":"86b","k":2,"J":41.69,"N":4.467e16},{"s":"86b","k":3,"J":87.1,"N":6.761e16},{"s":"86b","k":4,"J":182,"N":1e17},
{"s":"87a","k":0,"J":1,"N":2.754e14},{"s":"87a","k":1,"J":1.259,"N":4.571e14},{"s":"87a","k":2,"J":1.698,"N":7.413e14},{"s":"87a","k":3,"J":2.818,"N":1.445e15},{"s":"87a","k":4,"J":5.129,"N":2.754e15},{"s":"87a","k":5,"J":10,"N":5.37e15},
{"s":"87b","k":0,"J":16.6,"N":9.772e15},{"s":"87b","k":1,"J":35.48,"N":1.622e16},{"s":"87b","k":2,"J":87.1,"N":2.63e16},{"s":"87b","k":3,"J":182,"N":4.074e16},{"s":"87b","k":4,"J":389,"N":6.457e16},{"s":"87b","k":5,"J":812.8,"N":1e17},
{"s":"88a","k":0,"J":3.715,"N":1e13},{"s":"88a","k":1,"J":3.467,"N":1.995e13},{"s":"88a","k":2,"J":3.631,"N":5.37e13},{"s":"88a","k":3,"J":4.169,"N":1.023e14},{"s":"88a","k":4,"J":5.129,"N":1.778e14},{"s":"88a","k":5,"J":6.918,"N":3.388e14},{"s":"88a","k":6,"J":10.23,"N":6.607e14},{"s":"88a","k":7,"J":14.45,"N":1.23e15},{"s":"88a","k":8,"J":21.38,"N":2.239e15},
{"s":"88b","k":0,"J":38.9,"N":3.802e15},{"s":"88b","k":1,"J":93.33,"N":7.943e15},{"s":"88b","k":2,"J":213.8,"N":1.445e16},{"s":"88b","k":3,"J":389,"N":2.188e16},{"s":"88b","k":4,"J":707.9,"N":3.311e16},{"s":"88b","k":5,"J":1698,"N":6.457e16},{"s":"88b","k":6,"J":3236,"N":1e17},
{"s":"89a","k":0,"J":23.44,"N":1e13},{"s":"89a","k":1,"J":21.38,"N":1.995e13},{"s":"89a","k":2,"J":20.89,"N":5.37e13},{"s":"89a","k":3,"J":22.39,"N":9.333e13},{"s":"89a","k":4,"J":23.99,"N":1.479e14},{"s":"89a","k":5,"J":30.2,"N":2.512e14},{"s":"89a","k":6,"J":38.02,"N":3.981e14},{"s":"89a","k":7,"J":51.29,"N":6.457e14},{"s":"89a","k":8,"J":64.57,"N":8.913e14},
{"s":"89b","k":0,"J":104.7,"N":1.66e15},{"s":"89b","k":1,"J":213.8,"N":3.236e15},{"s":"89b","k":2,"J":331.1,"N":4.571e15},{"s":"89b","k":3,"J":707.9,"N":9.12e15},{"s":"89b","k":4,"J":1698,"N":1.95e16},{"s":"89b","k":5,"J":4169,"N":4.074e16},{"s":"89b","k":6,"J":6918,"N":6.457e16},{"s":"89b","k":7,"J":10230,"N":8.71e16},
{"s":"90a","k":0,"J":389,"N":1e13},{"s":"90a","k":1,"J":295.1,"N":1.585e13},{"s":"90a","k":2,"J":234.4,"N":2.692e13},{"s":"90a","k":3,"J":208.9,"N":5.37e13},{"s":"90a","k":4,"J":218.8,"N":1.023e14},{"s":"90a","k":5,"J":239.9,"N":1.622e14},{"s":"90a","k":6,"J":295.1,"N":3.388e14},{"s":"90a","k":7,"J":354.8,"N":4.786e14},
{"s":"90b","k":0,"J":478.6,"N":8.128e14},{"s":"90b","k":1,"J":955,"N":2.042e15},{"s":"90b","k":2,"J":1698,"N":4.074e15},{"s":"90b","k":3,"J":3631,"N":8.71e15},{"s":"90b","k":4,"J":10230,"N":2.399e16},
{"s":"91a","k":0,"J":10960,"N":3.02e15},{"s":"91a","k":1,"J":7586,"N":1.66e15},{"s":"91a","k":2,"J":6166,"N":1.202e15},{"s":"91a","k":3,"J":5012,"N":7.244e14},{"s":"91a","k":4,"J":4365,"N":4.365e14},
{"s":"91b","k":0,"J":4365,"N":2.291e14},{"s":"91b","k":1,"J":4571,"N":1.318e14},{"s":"91b","k":2,"J":5623,"N":9.333e13},{"s":"91b","k":3,"J":6918,"N":8.128e13},{"s":"91b","k":4,"J":10960,"N":6.026e13}
],
"ffl":[
{"t":"84","J":2.3,"N":6.2e16},{"t":"85","J":3.82,"N":3.03e16},{"t":"86","J":6.93,"N":1.52e16},{"t":"87","J":12.6,"N":7.41e15},{"t":"88","J":29,"N":3.03e15},{"t":"89","J":82.2,"N":1.31e15},{"t":"90","J":410,"N":6.19e14},{"t":"91","J":3945,"N":3.21e14}
],
"vocc":[
{"s":"650a","k":0,"J":0.942,"N":2.851e16},{"s":"650a","k":1,"J":1.23,"N":3.837e16},
{"s":"650b","k":0,"J":1.758,"N":6.577e16},{"s":"650b","k":1,"J":2.438,"N":1e17},
{"s":"700a","k":0,"J":19.5,"N":1e17},{"s":"700a","k":1,"J":12.02,"N":5.495e16},{"s":"700a","k":2,"J":7.943,"N":2.884e16},{"s":"700a","k":3,"J":6.761,"N":2.042e16},
{"s":"700b","k":0,"J":4.266,"N":6.918e15},{"s":"700b","k":1,"J":3.467,"N":4.365e15},{"s":"700b","k":2,"J":2.951,"N":2.399e15},{"s":"700b","k":3,"J":2.512,"N":1.23e15},{"s":"700b","k":4,"J":2.239,"N":4.898e14},{"s":"700b","k":5,"J":2.042,"N":1.622e14},{"s":"700b","k":6,"J":1.995,"N":4.898e13},{"s":"700b","k":7,"J":1.995,"N":1e13},
{"s":"750a","k":0,"J":169.8,"N":1e17},{"s":"750a","k":1,"J":117.5,"N":6.457e16},{"s":"750a","k":2,"J":81.28,"N":3.548e16},{"s":"750a","k":3,"J":61.66,"N":1.95e16},{"s":"750a","k":4,"J":50.12,"N":9.772e15},{"s":"750a","k":5,"J":44.67,"N":4.365e15},{"s":"750a","k":6,"J":39.81,"N":2.042e15},
{"s":"750b","k":0,"J":35.48,"N":9.12e14},{"s":"750b","k":1,"J":33.11,"N":5.37e14},{"s":"750b","k":2,"J":33.11,"N":2.951e14},{"s":"750b","k":3,"J":32.36,"N":6.607e13},{"s":"750b","k":4,"J":30.2,"N":1.995e13},{"s":"750b","k":5,"J":29.51,"N":1e13},
{"s":"800a","k":0,"J":1862,"N":1e17},{"s":"800a","k":1,"J":1413,"N":6.457e16},{"s":"800a","k":2,"J":1175,"N":4.365e16},{"s":"800a","k":3,"J":977.2,"N":2.63e16},{"s":"800a","k":4,"J":871,"N":1.585e16},{"s":"800a","k":5,"J":794.3,"N":5.888e15},{"s":"800a","k":6,"J":741.3,"N":3.236e15},{"s":"800a","k":7,"J":645.7,"N":1.318e15},{"s":"800a","k":8,"J":631,"N":5.37e14},{"s":"800a","k":9,"J":616.6,"N":3.715e14},
{"s":"800b","k":0,"J":602.6,"N":2.042e14},{"s":"800b","k":1,"J":588.8,"N":1.622e14},{"s":"800b","k":2,"J":562.3,"N":4.898e13},{"s":"800b","k":3,"J":512.9,"N":1.995e13},{"s":"800b","k":4,"J":467.7,"N":1e13}
],
"vocl":[
{"t":"650","J":1.923,"N":4.73e16},{"t":"700","J":5.6,"N":9.7e15},{"t":"750","J":32.36,"N":1.35e15},{"t":"800","J":631,"N":2.77e14}
]
},
"bounds":"flush",
"spacing":178,
"resolve":{"scale":{"color":"independent"},"legend":{"color":"independent"}},
"hconcat":[
{"width":310,"height":308,
"encoding":{
"x":{"field":"J","type":"quantitative","scale":{"type":"log","domain":[1,10000],"nice":false},"axis":{"title":"Photogenerated current density (mA/cm²)","values":[1,2,3,4,5,6,7,8,9,10,20,30,40,50,60,70,80,90,100,200,300,400,500,600,700,800,900,1000,2000,3000,4000,5000,6000,7000,8000,9000,10000],"labelExpr":"datum.value==1?'10⁰':datum.value==10?'10¹':datum.value==100?'10²':datum.value==1000?'10³':datum.value==10000?'10⁴':''","tickSize":{"condition":{"test":"indexof([1,10,100,1000,10000],datum.value)>=0","value":18},"value":9},"labelPadding":8,"titlePadding":13}},
"y":{"field":"N","type":"quantitative","scale":{"type":"log","domain":[1e13,1e17],"nice":false},"axis":{"title":"Bulk doping density (cm⁻³)","values":[1e13,2e13,3e13,4e13,5e13,6e13,7e13,8e13,9e13,1e14,2e14,3e14,4e14,5e14,6e14,7e14,8e14,9e14,1e15,2e15,3e15,4e15,5e15,6e15,7e15,8e15,9e15,1e16,2e16,3e16,4e16,5e16,6e16,7e16,8e16,9e16,1e17],"labelExpr":"datum.value==1e13?'10¹³':datum.value==1e14?'10¹⁴':datum.value==1e15?'10¹⁵':datum.value==1e16?'10¹⁶':datum.value==1e17?'10¹⁷':''","tickSize":{"condition":{"test":"indexof([1e13,1e14,1e15,1e16,1e17],datum.value)>=0","value":18},"value":9},"labelPadding":5,"titlePadding":12}}
},
"layer":[
{"data":{"name":"ff"},"mark":{"type":"square","size":256,"opacity":1,"clip":true},
"encoding":{"color":{"field":"FF","type":"quantitative","scale":{"domain":[83,84,85,86,87,88,89,90,91],"range":["#000000","#7a0000","#f50000","#ff3c00","#ff8000","#ff9c33","#fdb466","#f5d09a","#f7f1d3"]},
"legend":{"orient":"none","legendX":0,"legendY":-79,"direction":"horizontal","gradientLength":310,"gradientThickness":16.7,"gradientStrokeWidth":0,"title":"FF (%)","titleAnchor":"middle","titleFontSize":17,"titleFontWeight":"normal","titleColor":"black","titlePadding":4.5,"labelFontSize":17.5,"labelColor":"black","labelOffset":1.5,"labelAlign":"center","labelOverlap":false,"values":[83,84,85,86,87,88,89,90,91]}}}},
{"data":{"name":"ffc"},"mark":{"type":"line","color":"black","strokeWidth":1.9,"clip":true},"encoding":{"detail":{"field":"s","type":"nominal"},"order":{"field":"k","type":"quantitative"}}},
{"data":{"name":"ffl"},"mark":{"type":"text","fontSize":17,"color":"black","baseline":"middle","align":"center"},"encoding":{"text":{"field":"t","type":"nominal"}}}
]},
{"width":310,"height":308,
"encoding":{
"x":{"field":"J","type":"quantitative","scale":{"type":"log","domain":[1,10000],"nice":false},"axis":{"title":"Photogenerated current density (mA/cm²)","values":[1,2,3,4,5,6,7,8,9,10,20,30,40,50,60,70,80,90,100,200,300,400,500,600,700,800,900,1000,2000,3000,4000,5000,6000,7000,8000,9000,10000],"labelExpr":"datum.value==1?'10⁰':datum.value==10?'10¹':datum.value==100?'10²':datum.value==1000?'10³':datum.value==10000?'10⁴':''","tickSize":{"condition":{"test":"indexof([1,10,100,1000,10000],datum.value)>=0","value":18},"value":9},"labelPadding":8,"titlePadding":13}},
"y":{"field":"N","type":"quantitative","scale":{"type":"log","domain":[1e13,1e17],"nice":false},"axis":{"title":"Bulk doping density (cm⁻³)","values":[1e13,2e13,3e13,4e13,5e13,6e13,7e13,8e13,9e13,1e14,2e14,3e14,4e14,5e14,6e14,7e14,8e14,9e14,1e15,2e15,3e15,4e15,5e15,6e15,7e15,8e15,9e15,1e16,2e16,3e16,4e16,5e16,6e16,7e16,8e16,9e16,1e17],"labelExpr":"datum.value==1e13?'10¹³':datum.value==1e14?'10¹⁴':datum.value==1e15?'10¹⁵':datum.value==1e16?'10¹⁶':datum.value==1e17?'10¹⁷':''","tickSize":{"condition":{"test":"indexof([1e13,1e14,1e15,1e16,1e17],datum.value)>=0","value":18},"value":9},"labelPadding":5,"titlePadding":12}}
},
"layer":[
{"data":{"name":"voc"},"mark":{"type":"square","size":256,"opacity":1,"clip":true},
"encoding":{"color":{"field":"Voc","type":"quantitative","scale":{"domain":[600,631.25,662.5,693.75,725,756.25,787.5,818.75,850],"range":["#000000","#7a0000","#f50000","#ff3c00","#ff8000","#ff9c33","#fdb466","#f5d09a","#f7f1d3"]},
"legend":{"orient":"none","legendX":0,"legendY":-73,"direction":"horizontal","gradientLength":310,"gradientThickness":16.7,"gradientStrokeWidth":0,"title":"Voc (mV)","titleAnchor":"middle","titleFontSize":17,"titleFontWeight":"normal","titleColor":"black","titlePadding":8,"labelFontSize":17.5,"labelColor":"black","labelOffset":1.5,"labelAlign":"center","labelOverlap":false,"values":[600,650,700,750,800,850]}}}},
{"data":{"name":"vocc"},"mark":{"type":"line","color":"black","strokeWidth":1.9,"clip":true},"encoding":{"detail":{"field":"s","type":"nominal"},"order":{"field":"k","type":"quantitative"}}},
{"data":{"name":"vocl"},"mark":{"type":"text","fontSize":17,"color":"black","baseline":"middle","align":"center"},"encoding":{"text":{"field":"t","type":"nominal"}}}
]}
]
}
